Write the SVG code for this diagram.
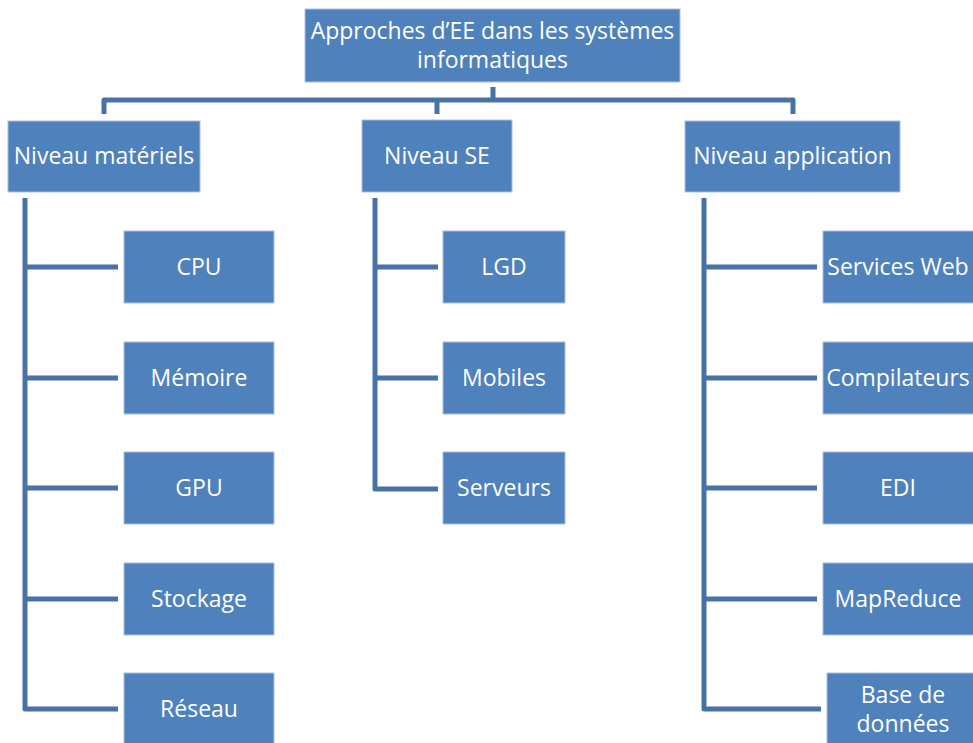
<svg xmlns="http://www.w3.org/2000/svg" width="973" height="743" viewBox="0 0 973 743">
  <style>
    .box { fill: #4f81bd; stroke: #a9c0df; stroke-width: 1; }
    .lbl { fill: #ffffff; font-family: "Open Sans", "Liberation Sans", sans-serif; font-size: 23px; text-anchor: middle; }
    .con { fill: none; stroke: #4672a6; stroke-width: 5; stroke-linejoin: round; stroke-linecap: butt; }
  </style>
  <rect width="973" height="743" fill="#ffffff"/>

  <!-- connectors -->
  <g id="connectors">
    <path class="con" d="M493 87 V100 M104 114 V100 H793 V114 M437 100 V114"/>
    <path class="con" d="M25 198 V709 H118 M25 267 H118 M25 378 H118 M25 488 H118 M25 599 H118"/>
    <path class="con" d="M375 198 V489 H438 M375 267 H438 M375 378 H438"/>
    <path class="con" d="M704 198 V709 H821 M704 267 H817 M704 378 H817 M704 488 H817 M704 599 H817"/>
  </g>

  <!-- root -->
  <g id="root">
    <rect class="box" x="305" y="9" width="375" height="73"/>
    <text class="lbl" x="492.5" y="39">Approches d’EE dans les systèmes</text>
    <text class="lbl" x="492.5" y="68">informatiques</text>
  </g>

  <!-- level 2 -->
  <g id="niveau-materiels">
    <rect class="box" x="8" y="121" width="192" height="71"/>
    <text class="lbl" x="104" y="164">Niveau matériels</text>
  </g>
  <g id="niveau-se">
    <rect class="box" x="362" y="120" width="150" height="72"/>
    <text class="lbl" x="437" y="164">Niveau SE</text>
  </g>
  <g id="niveau-application">
    <rect class="box" x="685" y="121" width="215" height="71"/>
    <text class="lbl" x="792.5" y="164">Niveau application</text>
  </g>

  <!-- hardware leaves -->
  <g id="cpu">
    <rect class="box" x="124" y="231" width="150" height="72"/>
    <text class="lbl" x="199" y="275">CPU</text>
  </g>
  <g id="memoire">
    <rect class="box" x="124" y="342" width="150" height="72"/>
    <text class="lbl" x="199" y="386">Mémoire</text>
  </g>
  <g id="gpu">
    <rect class="box" x="124" y="452" width="150" height="72"/>
    <text class="lbl" x="199" y="496">GPU</text>
  </g>
  <g id="stockage">
    <rect class="box" x="124" y="563" width="150" height="72"/>
    <text class="lbl" x="199" y="607">Stockage</text>
  </g>
  <g id="reseau">
    <rect class="box" x="124" y="673" width="150" height="80"/>
    <text class="lbl" x="199" y="717">Réseau</text>
  </g>

  <!-- OS leaves -->
  <g id="lgd">
    <rect class="box" x="443" y="231" width="122" height="72"/>
    <text class="lbl" x="504" y="275">LGD</text>
  </g>
  <g id="mobiles">
    <rect class="box" x="443" y="342" width="122" height="72"/>
    <text class="lbl" x="504" y="386">Mobiles</text>
  </g>
  <g id="serveurs">
    <rect class="box" x="443" y="452" width="122" height="72"/>
    <text class="lbl" x="504" y="496">Serveurs</text>
  </g>

  <!-- application leaves -->
  <g id="services-web">
    <rect class="box" x="823" y="231" width="160" height="72"/>
    <text class="lbl" x="898" y="275">Services Web</text>
  </g>
  <g id="compilateurs">
    <rect class="box" x="823" y="342" width="160" height="72"/>
    <text class="lbl" x="898" y="386">Compilateurs</text>
  </g>
  <g id="edi">
    <rect class="box" x="823" y="452" width="160" height="72"/>
    <text class="lbl" x="898" y="496">EDI</text>
  </g>
  <g id="mapreduce">
    <rect class="box" x="823" y="563" width="160" height="72"/>
    <text class="lbl" x="898" y="607">MapReduce</text>
  </g>
  <g id="base-de-donnees">
    <rect class="box" x="827" y="673" width="160" height="80"/>
    <text class="lbl" x="903" y="703">Base de</text>
    <text class="lbl" x="903" y="732">données</text>
  </g>
</svg>
